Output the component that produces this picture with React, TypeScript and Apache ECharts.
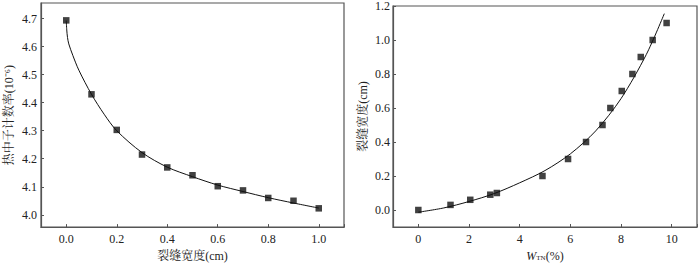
import React, { useEffect, useRef } from "react";
import * as echarts from "echarts";

// Left chart: crack width vs thermal neutron count rate
const leftX = [0, 0.1, 0.2, 0.3, 0.4, 0.5, 0.6, 0.7, 0.8, 0.9, 1.0];
const leftY = [4.694, 4.43, 4.303, 4.215, 4.169, 4.141, 4.102, 4.087, 4.06, 4.05, 4.023];
const leftCurveX = [0, 0.002, 0.005, 0.01, 0.026, 0.05, 0.1, 0.15, 0.2, 0.3, 0.4, 0.5, 0.6, 0.7, 0.8, 0.9, 1.0];
const leftCurveY = [4.693, 4.66, 4.633, 4.61, 4.569, 4.516, 4.43, 4.359, 4.30, 4.222, 4.170, 4.136, 4.106, 4.083, 4.061, 4.042, 4.024];

// Right chart: W_TN vs crack width
const rightX = [0, 1.27, 2.05, 2.84, 3.1, 4.9, 5.91, 6.62, 7.27, 7.58, 8.03, 8.45, 8.78, 9.25, 9.8];
const rightY = [0, 0.03, 0.06, 0.09, 0.1, 0.2, 0.3, 0.4, 0.5, 0.6, 0.7, 0.8, 0.9, 1.0, 1.1];
const rightCurveX = [0, 1, 2, 3, 4, 5, 6, 7, 8, 9, 9.71];
const rightCurveY = [-0.013, 0.012, 0.05, 0.097, 0.16, 0.232, 0.33, 0.465, 0.655, 0.915, 1.155];

const FONT = "'Liberation Serif', 'Noto Serif CJK SC', 'Noto Sans CJK SC', serif";
const TXT = "#222";
const AX = "#555";

function nearMultiple(v: number, step: number) {
  const r = v / step;
  return Math.abs(r - Math.round(r)) < 1e-6;
}

export default function App() {
  const ref = useRef<HTMLDivElement>(null);
  useEffect(() => {
    document.body.style.margin = "0";
    const chart = echarts.init(ref.current!, undefined, { renderer: "svg" });
    const axisCommon = {
      axisLine: { show: true, onZero: false, lineStyle: { color: AX, width: 1.2 } },
      axisTick: { show: true, inside: true, length: 3, lineStyle: { color: AX } },
      splitLine: { show: false },
      nameTextStyle: { color: TXT, fontFamily: FONT, fontSize: 12 },
    };
    const labelStyle = { color: TXT, fontFamily: FONT, fontSize: 12 };
    chart.setOption({
      animation: false,
      grid: [
        { left: 41, right: 356, top: 3, bottom: 35, show: true, borderColor: AX, borderWidth: 1.2 },
        { left: 393, right: 1, top: 3, bottom: 36, show: true, borderColor: AX, borderWidth: 1.2 },
      ],
      xAxis: [
        {
          type: "value",
          gridIndex: 0,
          min: -0.1,
          max: 1.1,
          splitNumber: 6,
          ...axisCommon,
          axisLabel: {
            ...labelStyle,
            margin: 6,
            formatter: (v: number) => (v >= 0 && v <= 1 && nearMultiple(v, 0.2) ? v.toFixed(1) : ""),
          },
          name: "裂缝宽度(cm)",
          nameLocation: "middle",
          nameGap: 22,
        },
        {
          type: "value",
          gridIndex: 1,
          min: -1,
          max: 11,
          splitNumber: 6,
          ...axisCommon,
          axisLabel: {
            ...labelStyle,
            margin: 6,
            formatter: (v: number) => (v >= 0 && v <= 10 && nearMultiple(v, 2) ? String(Math.round(v)) : ""),
          },
          name: "{i|W}{s|TN}{n|(%)}",
          nameLocation: "middle",
          nameGap: 23,
          nameTextStyle: {
            color: TXT,
            fontFamily: FONT,
            fontSize: 12,
            rich: {
              i: { fontStyle: "italic", fontFamily: FONT, fontSize: 12, color: TXT },
              s: { fontFamily: FONT, fontSize: 7, color: TXT, verticalAlign: "bottom", padding: [5, 0, 0, 0] },
              n: { fontFamily: FONT, fontSize: 12, color: TXT },
            },
          },
        },
      ],
      yAxis: [
        {
          type: "value",
          gridIndex: 0,
          min: 3.956,
          max: 4.756,
          splitNumber: 8,
          ...axisCommon,
          axisLabel: {
            ...labelStyle,
            margin: 4,
            showMinLabel: false,
            showMaxLabel: false,
            formatter: (v: number) => (v >= 3.99 && v <= 4.71 && nearMultiple(v, 0.1) ? v.toFixed(1) : ""),
          },
          name: "热中子计数率(10⁻⁶)",
          nameLocation: "middle",
          nameGap: 26,
        },
        {
          type: "value",
          gridIndex: 1,
          min: -0.1,
          max: 1.2,
          splitNumber: 7,
          ...axisCommon,
          axisLabel: {
            ...labelStyle,
            margin: 3,
            formatter: (v: number) => (v >= -0.001 && v <= 1.201 && nearMultiple(v, 0.2) ? v.toFixed(1) : ""),
          },
          name: "裂缝宽度(cm)",
          nameLocation: "middle",
          nameGap: 24,
        },
      ],
      series: [
        {
          type: "line",
          xAxisIndex: 0,
          yAxisIndex: 0,
          data: leftCurveX.map((x, i) => [x, leftCurveY[i]]),
          smooth: 0.3,
          showSymbol: false,
          lineStyle: { color: "#111", width: 1 },
          silent: true,
        },
        {
          type: "scatter",
          xAxisIndex: 0,
          yAxisIndex: 0,
          data: leftX.map((x, i) => [x, leftY[i]]),
          symbol: "rect",
          symbolSize: 6.5,
          itemStyle: { color: "#111" },
        },
        {
          type: "line",
          xAxisIndex: 1,
          yAxisIndex: 1,
          data: rightCurveX.map((x, i) => [x, rightCurveY[i]]),
          smooth: 0.3,
          showSymbol: false,
          lineStyle: { color: "#111", width: 1 },
          silent: true,
        },
        {
          type: "scatter",
          xAxisIndex: 1,
          yAxisIndex: 1,
          data: rightX.map((x, i) => [x, rightY[i]]),
          symbol: "rect",
          symbolSize: 6.5,
          itemStyle: { color: "#111" },
        },
      ],
    });
    return () => chart.dispose();
  }, []);
  return <div ref={ref} style={{ width: 700, height: 267 }} />;
}
